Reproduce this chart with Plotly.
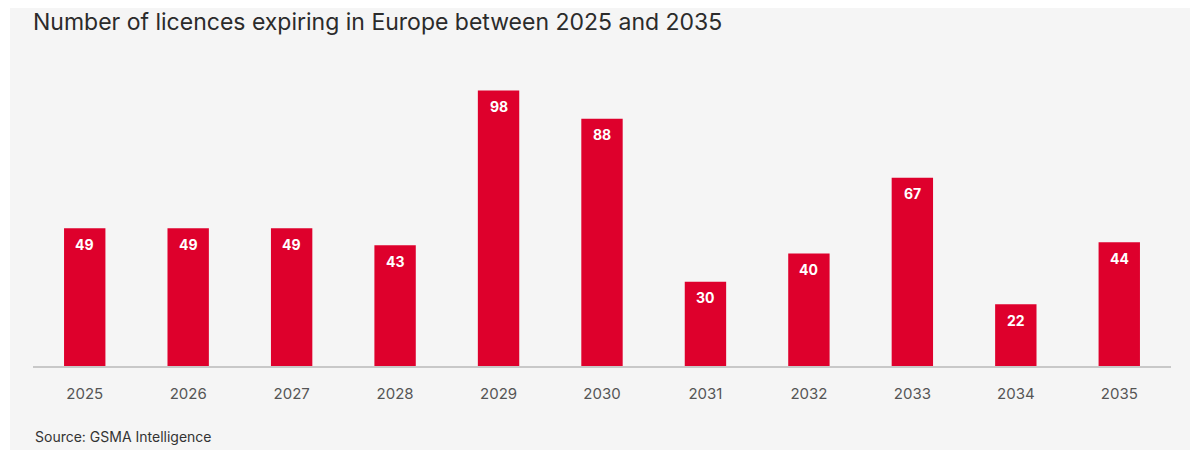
import plotly.graph_objects as go

years = ["2025", "2026", "2027", "2028", "2029", "2030", "2031", "2032", "2033", "2034", "2035"]
licences = [49, 49, 49, 43, 98, 88, 30, 40, 67, 22, 44]

title_text = "Number of licences expiring in Europe between 2025 and 2035"
source_text = "Source: GSMA Intelligence"

W, H = 1190, 452
L, R, T, B = 33, 19, 71, 86
pw, ph = W - L - R, H - T - B

fig = go.Figure()
fig.add_trace(go.Bar(
    x=years, y=licences,
    marker=dict(color="#de002c", line=dict(width=0)),
    hoverinfo="x+y",
))

annotations = []
for i, v in enumerate(licences):
    # category axis: annotation positioned by category index
    annotations.append(dict(
        x=i, y=v, xref="x", yref="y", text=f"<b>{v}</b>", showarrow=False,
        yanchor="middle", yshift=-16,
        font=dict(family="Inter, sans-serif", size=14, color="white"),
    ))
annotations.append(dict(
    x=0, y=(366 - 436) / ph, xref="paper", yref="paper", text=source_text,
    showarrow=False, xanchor="left", yanchor="middle",
    font=dict(family="Inter, sans-serif", size=14, color="#333333"),
))

fig.update_layout(
    width=W, height=H,
    margin=dict(l=L, r=R, t=T, b=B, pad=0),
    paper_bgcolor="white",
    plot_bgcolor="rgba(0,0,0,0)",
    bargap=0.6,
    showlegend=False,
    title=dict(
        text=title_text, xref="container", yref="container",
        x=33 / W, y=1 - 22 / H, xanchor="left", yanchor="middle",
        font=dict(family="Inter, sans-serif", size=23, color="#2b2b2b"),
    ),
    xaxis=dict(
        type="category", range=[-0.5, len(years) - 0.5],
        showgrid=False, showline=True, linecolor="#c8c8c8", linewidth=2,
        ticks="", ticklabelstandoff=13,
        tickfont=dict(family="Inter, sans-serif", size=15, color="#555555"),
        zeroline=False,
    ),
    yaxis=dict(
        range=[0, ph / 2.81], showgrid=False, showticklabels=False,
        zeroline=False, showline=False, ticks="",
    ),
    shapes=[dict(
        type="rect", xref="paper", yref="paper", layer="below",
        x0=(10 - L) / pw, x1=(W - L) / pw,
        y0=(366 - 450) / ph, y1=(366 - 8) / ph,
        fillcolor="#f5f5f5", line=dict(width=0),
    )],
    annotations=annotations,
)

fig.write_html("out.html")
